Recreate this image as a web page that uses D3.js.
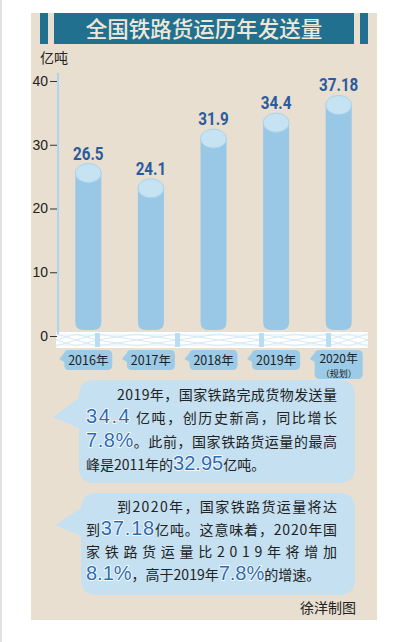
<!DOCTYPE html>
<html>
<head>
<meta charset="utf-8">
<script src="https://cdn.jsdelivr.net/npm/d3@7"></script>
<style>
  html, body { margin: 0; padding: 0; background: #fff; }
  svg { display: block; }
</style>
</head>
<body>
<div id="chart"></div>
<script>
// data
const title = "全国铁路货运历年发送量";
const unitLabel = "亿吨";
const years = ["2016年", "2017年", "2018年", "2019年", "2020年"];
const yearNotes = ["", "", "", "", "（规划）"];
const values = [26.5, 24.1, 31.9, 34.4, 37.18];
const yTicks = [0, 10, 20, 30, 40];

// bubble texts: each line is a list of [text, highlighted?]
const note1 = [
  { indent: true, justify: true, parts: [["2019年，国家铁路完成货物发送量", false]] },
  { indent: false, justify: true, parts: [["34.4", true], [" 亿吨，创历史新高，同比增长", false]] },
  { indent: false, justify: true, parts: [["7.8%", true], ["。此前，国家铁路货运量的最高", false]] },
  { indent: false, justify: false, parts: [["峰是2011年的", false], ["32.95", true], ["亿吨。", false]] }
];
const note2 = [
  { indent: true, justify: true, parts: [["到2020年，国家铁路货运量将达", false]] },
  { indent: false, justify: true, parts: [["到", false], ["37.18", true], ["亿吨。这意味着，2020年国", false]] },
  { indent: false, justify: true, parts: [["家铁路货运量比2019年将增加", false]] },
  { indent: false, justify: false, parts: [["8.1%", true], ["，高于2019年", false], ["7.8%", true], ["的增速。", false]] }
];
const credit = "徐洋制图";

const W = 397, H = 642;
const cjk = '"Noto Sans CJK SC", "Noto Sans", sans-serif';

const svg = d3.select('#chart').append('svg')
  .attr('width', W)
  .attr('height', H);

// page edge + beige panel
svg.append('line')
  .attr('x1', 1).attr('x2', 1).attr('y1', 0).attr('y2', H)
  .attr('stroke', '#e2e2e2').attr('stroke-width', 2);
svg.append('rect')
  .attr('x', 31).attr('y', 13).attr('width', 346).attr('height', 607)
  .attr('fill', '#e8dfd1');

// title bar
svg.append('rect').attr('x', 40).attr('y', 13).attr('width', 8).attr('height', 31).attr('fill', '#22708f');
svg.append('rect').attr('x', 54).attr('y', 13).attr('width', 300).attr('height', 31).attr('fill', '#22708f');
svg.append('rect').attr('x', 360).attr('y', 13).attr('width', 8).attr('height', 31).attr('fill', '#22708f');
svg.append('text')
  .attr('x', 204).attr('y', 37)
  .attr('text-anchor', 'middle')
  .style('font-family', cjk)
  .style('font-weight', 500)
  .style('font-size', '21.5px')
  .attr('fill', '#efe8da')
  .text(title);

// scales
const x = d3.scaleBand().domain(years).range([57, 370]).padding(0);
const y = d3.scaleLinear().domain([0, 40]).range([336, 81]);
const barW = 26, rx = 13, ry = 9.5, barBottom = 330;

// unit label
svg.append('text')
  .attr('x', 40).attr('y', 63)
  .style('font-family', cjk)
  .style('font-size', '14px')
  .attr('fill', '#222')
  .text(unitLabel);

// base platform (decorative truss)
const base = svg.append('g');
base.append('rect')
  .attr('x', 56).attr('y', 332).attr('width', 312).attr('height', 16)
  .attr('fill', '#ffffff');
const posts = [56, 97, 177, 261, 328, 368];
for (let i = 0; i < posts.length - 1; i++) {
  const a = posts[i], b = posts[i + 1];
  const m = (a + b) / 2;
  [[a, 334, b, 346], [a, 346, b, 334], [a, 340, m, 334], [m, 346, b, 340],
   [a, 340, m, 346], [m, 334, b, 340]].forEach(l => {
    base.append('line')
      .attr('x1', l[0]).attr('y1', l[1]).attr('x2', l[2]).attr('y2', l[3])
      .attr('stroke', '#d6eaf6').attr('stroke-width', 1);
  });
}
base.append('line').attr('x1', 56).attr('x2', 368).attr('y1', 335).attr('y2', 335)
  .attr('stroke', '#dcedf7').attr('stroke-width', 1);
base.append('line').attr('x1', 56).attr('x2', 368).attr('y1', 345).attr('y2', 345)
  .attr('stroke', '#dcedf7').attr('stroke-width', 1);
posts.slice(1, -1).forEach(p => {
  base.append('rect').attr('x', p - 2).attr('y', 333).attr('width', 5).attr('height', 14)
    .attr('fill', '#b9def2');
});

// y axis
svg.append('line')
  .attr('x1', 58).attr('x2', 58).attr('y1', 73).attr('y2', 334)
  .attr('stroke', '#a9d6ee').attr('stroke-width', 2);

const axis = svg.append('g')
  .attr('transform', 'translate(57,0)')
  .call(d3.axisLeft(y).tickValues(yTicks).tickSize(7).tickPadding(2).tickFormat(d3.format('d')));
axis.select('.domain').remove();
axis.selectAll('.tick line').attr('stroke', '#333').attr('stroke-width', 1);
axis.selectAll('.tick text')
  .style('font-family', '"Liberation Sans", Arial, sans-serif')
  .style('font-size', '14px')
  .attr('fill', '#222');

// cylinders
const bars = svg.append('g').selectAll('g')
  .data(values)
  .join('g');

bars.append('path')
  .attr('fill', '#98c8e6')
  .attr('d', (d, i) => {
    const cx = x(years[i]) + x.bandwidth() / 2;
    const top = y(d) + 6;
    const l = cx - barW / 2, r = cx + barW / 2, rr = 8;
    return `M${l},${top} L${r},${top} L${r},${barBottom - rr} Q${r},${barBottom} ${r - rr},${barBottom}` +
      ` L${l + rr},${barBottom} Q${l},${barBottom} ${l},${barBottom - rr} Z`;
  });

bars.append('ellipse')
  .attr('cx', (d, i) => x(years[i]) + x.bandwidth() / 2)
  .attr('cy', d => y(d) + 6)
  .attr('rx', rx).attr('ry', ry)
  .attr('fill', '#c6e3f4')
  .attr('stroke', '#a6d3ee')
  .attr('stroke-width', 1);

bars.append('text')
  .attr('transform', (d, i) => {
    const cx = x(years[i]) + x.bandwidth() / 2;
    return `translate(${cx},${y(d) + 6 - ry - 4}) scale(0.8,1)`;
  })
  .attr('text-anchor', 'middle')
  .style('font-family', 'Roboto, "Liberation Sans", sans-serif')
  .style('font-weight', 700)
  .style('font-size', '19px')
  .attr('fill', '#2a5b9c')
  .text(d => String(d));

// year tags
const tags = svg.append('g').selectAll('g')
  .data(years)
  .join('g')
  .attr('transform', d => `translate(${x(d) + x.bandwidth() / 2 - 2},350)`);

tags.append('path')
  .attr('fill', '#9ccbe7')
  .attr('d', (d, i) => {
    const w = 52, h = yearNotes[i] ? 29 : 20, l = -w / 2 + 4, r = w / 2, rr = 5;
    return `M${l + rr},0 L${r - rr},0 Q${r},0 ${r},${rr} L${r},${h - rr} Q${r},${h} ${r - rr},${h}` +
      ` L${l + rr},${h} Q${l},${h} ${l},${h - rr} L${l},12 L${l - 5},9 L${l},3 Q${l},0 ${l + rr},0 Z`;
  });

tags.append('text')
  .attr('x', 2).attr('y', (d, i) => yearNotes[i] ? 12.5 : 15)
  .attr('text-anchor', 'middle')
  .style('font-family', cjk)
  .style('font-size', (d, i) => yearNotes[i] ? '12px' : '12.5px')
  .attr('fill', '#222')
  .text(d => d);

tags.append('text')
  .attr('x', 2).attr('y', 26.5)
  .attr('text-anchor', 'middle')
  .style('font-family', cjk)
  .style('font-size', '9px')
  .attr('fill', '#222')
  .text((d, i) => yearNotes[i]);

// speech bubbles
function bubble(box, tail, lines, firstBaseline, lineGap) {
  const { x0, y0, x1, y1 } = box, r = 16;
  svg.append('path')
    .attr('fill', '#c5e0f1')
    .attr('d', `M${x0 + r},${y0} L${x1 - r},${y0} Q${x1},${y0} ${x1},${y0 + r} L${x1},${y1 - r} Q${x1},${y1} ${x1 - r},${y1}` +
      ` L${x0 + r},${y1} Q${x0},${y1} ${x0},${y1 - r} L${x0},${tail.b} L${tail.x},${tail.y} L${x0},${tail.a}` +
      ` L${x0},${y0 + r} Q${x0},${y0} ${x0 + r},${y0} Z`);

  lines.forEach((ln, i) => {
    const xs = ln.indent ? 117 : 86;
    const t = svg.append('text')
      .attr('x', xs)
      .attr('y', firstBaseline + i * lineGap)
      .style('font-family', cjk)
      .style('font-size', '14px')
      .attr('fill', '#222');
    if (ln.justify) {
      t.attr('textLength', 337 - xs).attr('lengthAdjust', 'spacing');
    }
    ln.parts.forEach(p => {
      const s = t.append('tspan').text(p[0]);
      if (p[1]) {
        s.style('font-family', '"Liberation Sans", Arial, sans-serif')
          .style('font-size', '20px')
          .attr('fill', '#2d6cb0')
          .attr('stroke', '#ffffff')
          .attr('stroke-width', 1.6)
          .attr('paint-order', 'stroke');
      }
    });
  });
}

bubble({ x0: 79, y0: 380, x1: 355, y1: 483 }, { a: 398, x: 53, y: 417, b: 428 }, note1, 400, 23.3);
bubble({ x0: 81, y0: 493, x1: 355, y1: 595 }, { a: 508, x: 55, y: 525, b: 536 }, note2, 512, 22.7);

svg.append('text')
  .attr('x', 356).attr('y', 613)
  .attr('text-anchor', 'end')
  .style('font-family', cjk)
  .style('font-size', '14px')
  .attr('fill', '#222')
  .text(credit);
</script>
</body>
</html>
